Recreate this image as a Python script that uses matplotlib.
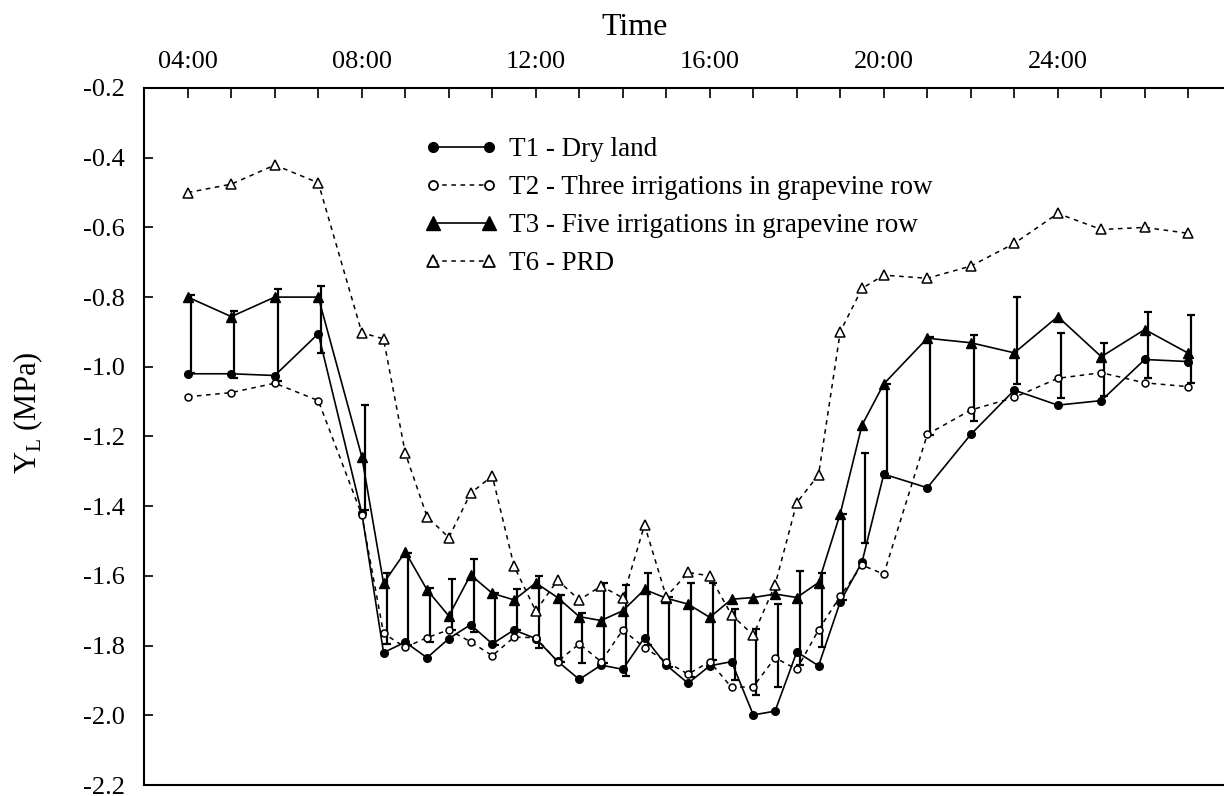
import matplotlib
matplotlib.use("Agg")
import matplotlib.pyplot as plt
from matplotlib.lines import Line2D
import numpy as np

plt.rcParams['font.family'] = ['Liberation Serif', 'DejaVu Serif']
plt.rcParams['mathtext.fontset'] = 'custom'
plt.rcParams['mathtext.rm'] = 'Liberation Serif'
plt.rcParams['axes.unicode_minus'] = False

# ---- data ----
hours = [4, 5, 6, 7, 8, 8.5, 9, 9.5, 10, 10.5, 11, 11.5, 12, 12.5, 13, 13.5,
         14, 14.5, 15, 15.5, 16, 16.5, 17, 17.5, 18, 18.5, 19, 19.5, 20,
         21, 22, 23, 24, 25, 26, 27]

t1_dry = [-1.02, -1.02, -1.025, -0.905, -1.42, -1.82, -1.79, -1.835, -1.78,
          -1.74, -1.795, -1.755, -1.78, -1.845, -1.897, -1.856, -1.868,
          -1.777, -1.856, -1.908, -1.858, -1.846, -1.999, -1.988, -1.818,
          -1.858, -1.674, -1.56, -1.308, -1.347, -1.194, -1.067, -1.110,
          -1.097, -0.979, -0.985]

t2_three = [-1.086, -1.074, -1.047, -1.097, -1.425, -1.765, -1.805, -1.777,
            -1.755, -1.789, -1.829, -1.776, -1.777, -1.846, -1.795, -1.846,
            -1.755, -1.806, -1.846, -1.882, -1.846, -1.920, -1.918, -1.835,
            -1.868, -1.755, -1.658, -1.569, -1.595, -1.194, -1.124, -1.088,
            -1.033, -1.017, -1.046, -1.057]

t3_five = [-0.80, -0.856, -0.80, -0.80, -1.258, -1.621, -1.531, -1.640,
           -1.715, -1.597, -1.650, -1.669, -1.620, -1.662, -1.717, -1.728,
           -1.700, -1.639, -1.664, -1.681, -1.719, -1.667, -1.662, -1.652,
           -1.662, -1.619, -1.421, -1.167, -1.049, -0.918, -0.931, -0.960,
           -0.856, -0.971, -0.893, -0.961]

t6_prd = [-0.500, -0.476, -0.421, -0.472, -0.902, -0.920, -1.248, -1.43,
          -1.490, -1.363, -1.313, -1.572, -1.701, -1.612, -1.669, -1.629,
          -1.663, -1.454, -1.66, -1.59, -1.60, -1.712, -1.770, -1.626,
          -1.390, -1.310, -0.899, -0.775, -0.737, -0.746, -0.711, -0.646,
          -0.560, -0.606, -0.600, -0.617]

bar_top = [-0.794, -0.840, -0.778, -0.768, -1.110, -1.593, -1.533, -1.636,
           -1.610, -1.552, -1.650, -1.639, -1.600, -1.655, -1.706, -1.619,
           -1.626, -1.593, -1.660, -1.621, -1.619, -1.696, -1.753, -1.681,
           -1.586, -1.591, -1.423, -1.248, -1.050, -0.914, -0.909, -0.801,
           -0.904, -0.931, -0.842, -0.851]

bar_bottom = [-1.019, -1.033, -1.040, -0.961, -1.411, -1.794, -1.798, -1.789,
              -1.755, -1.760, -1.798, -1.755, -1.808, -1.846, -1.851, -1.851,
              -1.887, -1.798, -1.861, -1.889, -1.841, -1.899, -1.942, -1.918,
              -1.856, -1.803, -1.669, -1.507, -1.320, -1.196, -1.155, -1.048,
              -1.090, -1.084, -1.033, -1.046]

labels = ["T1 - Dry land",
          "T2 - Three irrigations in grapevine row",
          "T3 - Five irrigations in grapevine row",
          "T6 - PRD"]

xtick_hours = [4, 8, 12, 16, 20, 24]
xtick_labels = ["04:00", "08:00", "12:00", "16:00", "20:00", "24:00"]
ytick_values = [-0.2, -0.4, -0.6, -0.8, -1.0, -1.2, -1.4, -1.6, -1.8, -2.0, -2.2]

# ---- figure ----
W, H = 1224, 796
fig = plt.figure(figsize=(W / 100, H / 100), dpi=100)
ax_left, ax_top_px, ax_bot_px = 144.3, 88.0, 785.0
ax = fig.add_axes([ax_left / W, (H - ax_bot_px) / H,
                   1 - ax_left / W, (ax_bot_px - ax_top_px) / H])

hrs = np.array(hours)
bt = np.array(bar_top)
bb = np.array(bar_bottom)
center = (bt + bb) / 2
half = (bt - bb) / 2
ax.errorbar(hrs + 0.07, center, yerr=half, fmt='none', ecolor='black',
            elinewidth=1.6, capsize=3.0, capthick=1.6, zorder=2)

ax.plot(hours, t1_dry, color='black', lw=1.2, marker='o', ms=5.5,
        mfc='black', mec='black', zorder=3)
ax.plot(hours, t3_five, color='black', lw=1.2, marker='^', ms=7.5,
        mfc='black', mec='black', zorder=3)
ax.plot(hours, t2_three, color='black', lw=1.1, ls=(0, (3, 3)), marker='o',
        ms=5, mfc='white', mec='black', mew=1.1, zorder=4)
ax.plot(hours, t6_prd, color='black', lw=1.1, ls=(0, (3, 3)), marker='^',
        ms=6.5, mfc='white', mec='black', mew=1.1, zorder=4)

ax.set_xlim(3, 3 + (W - ax_left) / 43.5)
ax.set_ylim(-2.2, -0.2)

ax.xaxis.tick_top()
ax.set_xticks(xtick_hours)
ax.set_xticklabels(xtick_labels)
ax.set_xticks([h for h in range(5, 28) if h not in xtick_hours], minor=True)
ax.set_yticks(ytick_values)
ax.set_yticklabels(["%.1f" % v for v in ytick_values])

ax.tick_params(axis='x', which='both', direction='in', length=7, width=1.2,
               top=True, bottom=False, labeltop=True, labelbottom=False,
               labelsize=19, pad=11)
ax.tick_params(axis='y', which='both', direction='in', length=6.5, width=1.2,
               left=True, right=False, labelsize=19, pad=14)

for s in ['left', 'top', 'bottom']:
    ax.spines[s].set_linewidth(1.5)
ax.spines['right'].set_visible(False)

fig.text(634.5 / W, 1 - 35 / H, "Time", fontsize=23, ha='center', va='baseline')
fig.text(28 / W, 1 - 412.5 / H, r"Y$_\mathregular{L}$ (MPa)", fontsize=22,
         rotation=90, ha='center', va='center')

handles = [
    Line2D([], [], color='black', lw=1.2, marker='o', ms=7, mfc='black'),
    Line2D([], [], color='black', lw=1.1, ls=(0, (3, 3)), marker='o', ms=6.5,
           mfc='white', mew=1.3),
    Line2D([], [], color='black', lw=1.2, marker='^', ms=10, mfc='black'),
    Line2D([], [], color='black', lw=1.1, ls=(0, (3, 3)), marker='^', ms=9,
           mfc='white', mew=1.3),
]
ax.legend(handles, labels, loc='upper left', bbox_to_anchor=(0.26, 0.929),
          frameon=False, numpoints=2, handlelength=2.65, handletextpad=0.45,
          labelspacing=0.48, borderpad=0, borderaxespad=0, fontsize=19.5)

fig.savefig("out.png", dpi=100)
